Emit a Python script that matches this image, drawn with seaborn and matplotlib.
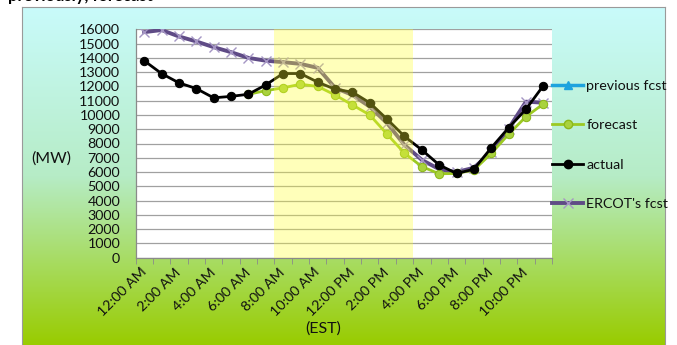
import numpy as np
import pandas as pd
import matplotlib
matplotlib.use("Agg")
import matplotlib.pyplot as plt
from matplotlib.colors import LinearSegmentedColormap
from matplotlib.lines import Line2D
import seaborn as sns

# ---------------- data ----------------
hours = list(range(24))
tick_labels = ["12:00 AM", "2:00 AM", "4:00 AM", "6:00 AM", "8:00 AM", "10:00 AM",
               "12:00 PM", "2:00 PM", "4:00 PM", "6:00 PM", "8:00 PM", "10:00 PM"]
previous_fcst = [np.nan] * 24
forecast = [np.nan] * 6 + [11450, 11700, 11900, 12150, 12000, 11400, 10700, 10000,
                           8650, 7320, 6380, 5880, 5900, 6150, 7300, 8650, 9880, 10770]
actual = [13800, 12900, 12250, 11850, 11200, 11300, 11450, 12100, 12900, 12900, 12300, 11800,
          11600, 10850, 9700, 8500, 7550, 6500, 5900, 6200, 7700, 9100, 10400, 12050]
ercot_fcst = [15800, 15950, 15500, 15150, 14750, 14400, 14000, 13800, 13700, 13580, 13300, 11900,
              11400, 10580, 9420, 7900, 6850, 6200, 6000, 6300, 7400, 9050, 10930, 10860]
highlight_start, highlight_end = 8, 16  # hours shaded

W, H = 677, 345
plt.rcParams['font.family'] = ['Lato', 'DejaVu Sans']
fig = plt.figure(figsize=(W / 100, H / 100), dpi=100)
fig.patch.set_facecolor("white")

# background gradient panel
bg = fig.add_axes([0, 0, 1, 1], zorder=-10)
bg.set_xlim(0, W)
bg.set_ylim(H, 0)
bg.axis("off")
cmap = LinearSegmentedColormap.from_list("g", ["#c9fbfb", "#b6ecc6", "#99cc00"])
grad = np.linspace(0, 1, 256).reshape(-1, 1)
bg.imshow(grad, cmap=cmap, extent=[22, 665, 345, 7], aspect="auto", zorder=0)
bg.plot([22, 22], [7, 345], color="#9a9a9a", lw=0.8)
bg.plot([665, 665], [7, 345], color="#9a9a9a", lw=0.8)
bg.plot([22, 665], [7, 7], color="#9a9a9a", lw=0.8)

ax = fig.add_axes([135.5 / W, 1 - 257.7 / H, (552 - 135.5) / W, (257.7 - 29.3) / H])
ax.set_facecolor("white")

df = pd.DataFrame({"hour": hours, "previous fcst": previous_fcst, "forecast": forecast,
                   "actual": actual, "ERCOT's fcst": ercot_fcst})

sns.lineplot(data=df, x="hour", y="ERCOT's fcst", ax=ax, color="#5f4b86", lw=2.8,
             marker="x", markersize=7, markeredgecolor="#a596c4", markeredgewidth=1.0, zorder=3)
sns.lineplot(data=df.dropna(subset=["forecast"]), x="hour", y="forecast", ax=ax, color="#9cc922", lw=2.0,
             marker="o", markersize=6, markerfacecolor="#a9d23e", markeredgecolor="#8cb81a", zorder=4)
sns.lineplot(data=df, x="hour", y="actual", ax=ax, color="black", lw=2.0,
             marker="o", markersize=6, markerfacecolor="black", markeredgecolor="black", zorder=5)

ax.axvspan(highlight_start - 0.5, highlight_end - 0.5, color="#ffff30", alpha=0.33, lw=0, zorder=6)

ax.set_xlim(-0.5, 23.5)
ax.set_ylim(0, 16000)
ax.set_yticks(np.arange(0, 16001, 1000))
ax.set_yticklabels([str(v) for v in range(0, 16001, 1000)])
ax.yaxis.grid(True, color="#a0a0a0", lw=0.9, zorder=1)
ax.set_axisbelow(True)
ax.set_xticks(np.arange(0, 24, 2))
ax.set_xticklabels(tick_labels, rotation=45, ha="right", va="center", rotation_mode="anchor")
ax.set_xticks(np.arange(-0.5, 24, 1), minor=True)
ax.tick_params(axis="x", which="major", length=0, pad=9, labelsize=10.3, colors="#111111")
ax.tick_params(axis="x", which="minor", length=4, color="#8a8a8a", direction="out")
ax.tick_params(axis="y", length=0, pad=11, labelsize=10.3, colors="#111111")
for s in ["top", "right"]:
    ax.spines[s].set_visible(False)
for s in ["left", "bottom"]:
    ax.spines[s].set_color("#8a8a8a")
    ax.spines[s].set_linewidth(0.9)
ax.set_xlabel("")
ax.set_ylabel("")

handles = [
    Line2D([], [], color="#1ea3de", lw=2.5, marker="^", markersize=6),
    Line2D([], [], color="#9cc922", lw=2.0, marker="o", markersize=6, markerfacecolor="#a9d23e", markeredgecolor="#8cb81a"),
    Line2D([], [], color="black", lw=2.0, marker="o", markersize=6),
    Line2D([], [], color="#5f4b86", lw=2.8, marker="x", markersize=7, markeredgecolor="#a596c4"),
]
fig.legend(handles, ["previous fcst", "forecast", "actual", "ERCOT's fcst"],
           loc="center left", bbox_to_anchor=(552 / W, 1 - 145 / H), frameon=False,
           handlelength=2.2, handletextpad=0.2, labelspacing=1.9, borderpad=0, borderaxespad=0,
           fontsize=10.3, labelcolor="#111111")

fig.text(51 / W, 1 - 159 / H, "(MW)", ha="center", va="center", fontsize=11.5, color="#111111")
fig.text(323 / W, 1 - 329 / H, "(EST)", ha="center", va="center", fontsize=11.5, color="#111111")
fig.text(8 / W, 1 - 1.5 / H, "previously, forecast", ha="left", va="baseline", fontsize=12,
         fontweight="bold", color="black")

fig.savefig("out.png", dpi=100)
